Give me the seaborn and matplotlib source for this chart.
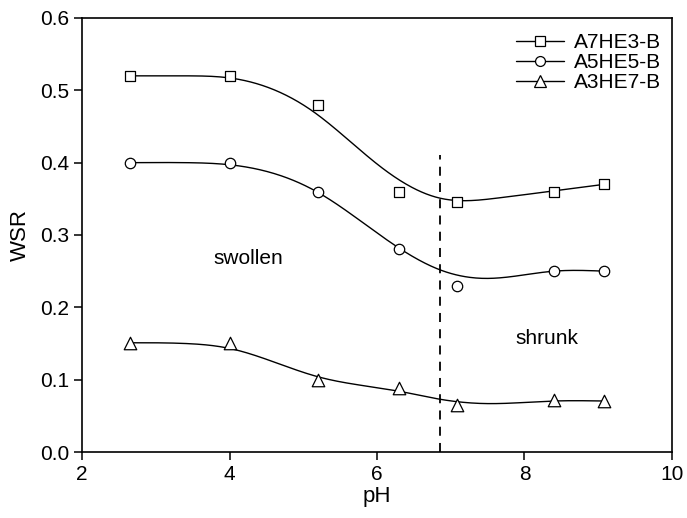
import numpy as np
import pandas as pd
import matplotlib
matplotlib.use("Agg")
import matplotlib.pyplot as plt
from matplotlib.lines import Line2D
import seaborn as sns

# Measured swelling ratio (WSR) versus pH for the three hydrogels
ph = [2.65, 4.0, 5.2, 6.3, 7.08, 8.4, 9.08]
wsr_a7he3 = [0.52, 0.52, 0.48, 0.36, 0.345, 0.36, 0.37]
wsr_a5he5 = [0.40, 0.40, 0.36, 0.28, 0.23, 0.25, 0.25]
wsr_a3he7 = [0.15, 0.15, 0.10, 0.088, 0.065, 0.072, 0.071]

# Nodes of the smoothed trend curves
fit_ph_a7he3 = [2.66, 3.40, 4.01, 5.13, 6.04, 6.85, 7.63, 8.40, 9.08]
fit_a7he3 = [0.520, 0.520, 0.517, 0.471, 0.395, 0.351, 0.351, 0.361, 0.370]
fit_ph_a5he5 = [2.66, 3.40, 4.01, 5.18, 6.04, 6.85, 7.45, 8.40, 9.08]
fit_a5he5 = [0.400, 0.400, 0.397, 0.360, 0.300, 0.252, 0.240, 0.250, 0.250]
fit_ph_a3he7 = [2.66, 3.40, 4.01, 5.20, 6.30, 6.85, 7.45, 8.40, 9.08]
fit_a3he7 = [0.151, 0.150, 0.143, 0.104, 0.084, 0.073, 0.067, 0.0705, 0.0705]

labels = ["A7HE3-B", "A5HE5-B", "A3HE7-B"]
markers = ["s", "o", "^"]
marker_sizes = [7, 7.5, 9]
transition_ph = 6.855
transition_top = 0.411


def natural_spline(x, y, xs):
    """Natural cubic spline through the nodes (x, y), evaluated at xs."""
    x = np.asarray(x, float)
    y = np.asarray(y, float)
    n = len(x)
    h = np.diff(x)
    A = np.zeros((n, n))
    b = np.zeros(n)
    A[0, 0] = 1.0
    A[-1, -1] = 1.0
    for i in range(1, n - 1):
        A[i, i - 1] = h[i - 1]
        A[i, i] = 2 * (h[i - 1] + h[i])
        A[i, i + 1] = h[i]
        b[i] = 3 * ((y[i + 1] - y[i]) / h[i] - (y[i] - y[i - 1]) / h[i - 1])
    c = np.linalg.solve(A, b)
    bc = (y[1:] - y[:-1]) / h - h * (2 * c[:-1] + c[1:]) / 3
    d = (c[1:] - c[:-1]) / (3 * h)
    idx = np.clip(np.searchsorted(x, xs) - 1, 0, n - 2)
    dx = xs - x[idx]
    return y[idx] + bc[idx] * dx + c[idx] * dx ** 2 + d[idx] * dx ** 3


sns.set_theme(style="ticks")
plt.rcParams["font.family"] = ["Liberation Sans", "DejaVu Sans"]
plt.rcParams["font.size"] = 15
plt.rcParams["text.color"] = "black"
plt.rcParams["axes.labelcolor"] = "black"

fig = plt.figure(figsize=(6.87, 5.18), dpi=100)
ax = fig.add_axes([0.1194, 0.1274, 0.8587, 0.8379])

series = [
    (wsr_a7he3, fit_ph_a7he3, fit_a7he3),
    (wsr_a5he5, fit_ph_a5he5, fit_a5he5),
    (wsr_a3he7, fit_ph_a3he7, fit_a3he7),
]

handles = []
for (vals, fx, fy), lab, mk, ms in zip(series, labels, markers, marker_sizes):
    xs = np.linspace(fx[0], fx[-1], 400)
    curve = pd.DataFrame({"pH": xs, "WSR": natural_spline(fx, fy, xs)})
    sns.lineplot(data=curve, x="pH", y="WSR", ax=ax, color="black",
                 linewidth=1.0, zorder=2)
    pts = pd.DataFrame({"pH": ph, "WSR": vals})
    sns.scatterplot(data=pts, x="pH", y="WSR", ax=ax, marker=mk,
                    s=ms ** 2, facecolor="white", edgecolor="black",
                    linewidth=0.9, zorder=3)
    handles.append(Line2D([], [], color="black", linewidth=1.0, marker=mk,
                          markersize=ms * 0.95, markerfacecolor="white",
                          markeredgecolor="black", markeredgewidth=0.9,
                          label=lab))

ax.vlines(transition_ph, 0, transition_top, colors="black",
          linestyles=(0, (5, 4)), linewidth=1.3, zorder=1)

ax.text(4.25, 0.268, "swollen", ha="center", va="center", fontsize=15,
        color="black")
ax.text(8.30, 0.157, "shrunk", ha="center", va="center", fontsize=15,
        color="black")

ax.set_xlim(2, 10)
ax.set_ylim(0, 0.6)
ax.set_xticks([2, 4, 6, 8, 10])
ax.set_yticks([0.0, 0.1, 0.2, 0.3, 0.4, 0.5, 0.6])
ax.set_yticklabels(["0.0", "0.1", "0.2", "0.3", "0.4", "0.5", "0.6"])
ax.set_xlabel("pH", fontsize=16, labelpad=2, color="black")
ax.set_ylabel("WSR", fontsize=16, labelpad=7, color="black")
ax.tick_params(axis="both", direction="out", length=6, width=1.1,
               labelsize=15, colors="black", pad=3)
for sp in ax.spines.values():
    sp.set_visible(True)
    sp.set_linewidth(1.2)
    sp.set_color("black")

leg = ax.legend(handles=handles, loc="upper right", frameon=False, fontsize=15,
                handlelength=2.3, handletextpad=0.45, labelspacing=0.05,
                borderaxespad=0.0, bbox_to_anchor=(0.995, 0.985))
for t in leg.get_texts():
    t.set_color("black")

fig.savefig("out.png", dpi=100)
